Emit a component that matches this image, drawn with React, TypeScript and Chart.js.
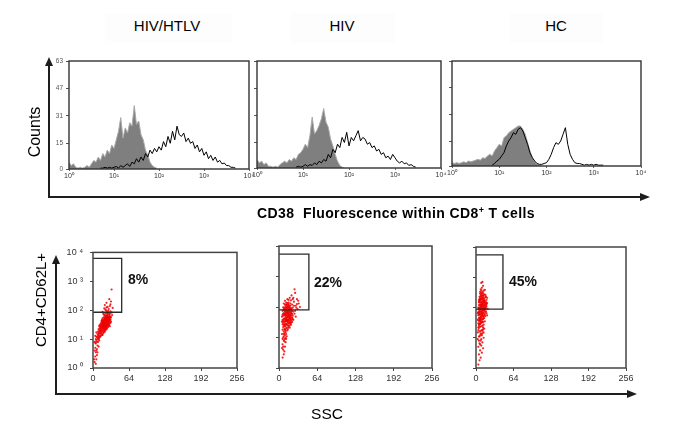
import React, { useEffect, useRef } from "react";
import { Chart, registerables } from "chart.js";

Chart.register(...registerables);

const FONT = '"Liberation Sans", Arial, Helvetica, sans-serif';
const NARROW = '"Liberation Sans Narrow", "Arial Narrow", "Liberation Sans", Arial, sans-serif';

// ---------- categories / ticks ----------
const GROUPS = ["HIV/HTLV", "HIV", "HC"];
const DECADES = [
  0, 0.05, 0.1, 0.15, 0.2, 0.25, 0.3, 0.35, 0.4, 0.45, 0.5, 0.55, 0.6, 0.65, 0.7, 0.75, 0.8, 0.85, 0.9, 0.95,
  1, 1.05, 1.1, 1.15, 1.2, 1.25, 1.3, 1.35, 1.4, 1.45, 1.5, 1.55, 1.6, 1.65, 1.7, 1.75, 1.8, 1.85, 1.9, 1.95,
  2, 2.05, 2.1, 2.15, 2.2, 2.25, 2.3, 2.35, 2.4, 2.45, 2.5, 2.55, 2.6, 2.65, 2.7, 2.75, 2.8, 2.85, 2.9, 2.95,
  3, 3.05, 3.1, 3.15, 3.2, 3.25, 3.3, 3.35, 3.4, 3.45, 3.5, 3.55, 3.6, 3.65, 3.7, 3.75, 3.8, 3.85, 3.9, 3.95, 4,
];
const DECADE_TICKS = [0, 1, 2, 3, 4];
const COUNT_TICKS = [0, 15, 31, 47, 63];
const SSC_TICKS = [0, 64, 128, 192, 256];
const FL_TICKS = [1, 10, 100, 1000, 10000];
const SUP = ["\u2070", "\u00b9", "\u00b2", "\u00b3", "\u2074"];

// ---------- histogram series (counts per channel, aligned with DECADES) ----------
const GREY_HIVHTLV = [
  4, 2, 3, 1, 0.5, 1, 0.5, 1, 2, 1, 3, 5, 4, 7, 5, 9, 7, 11, 9, 14,
  12, 17, 22, 30, 18, 24, 21, 27, 25, 37, 26, 28, 20, 17, 11, 8, 4, 2, 1, 0.5,
];
const BLACK_HIVHTLV = [
  null, null, null, null, null, null, null, null, null, null, null, null, null, null,
  0.5, 0.5, 1, 0.5, 1, 0.5, 1, 1.5, 0.5, 2, 1, 2, 3, 1.5, 4, 3, 6, 4, 7, 5, 9, 7, 11, 9, 12, 10,
  13, 11, 16, 13, 19, 15, 22, 17, 25, 20, 19, 21, 16, 18, 15, 16, 12, 14, 10, 12,
  8, 10, 6, 8, 5, 7, 4, 5, 3, 3.5, 2, 2, 1, 1, 0.5,
];
const GREY_HIV = [
  5, 3, 4, 2, 3, 1, 1, 0.5, 1, 0.5, 2, 3, 4, 3, 5, 4, 6, 5, 8, 9,
  11, 14, 12, 19, 30, 20, 22, 25, 29, 35, 27, 24, 17, 13, 8, 4, 1.5, 0.5, 0,
];
const BLACK_HIV = [
  null, null, null, null, null, null, null, null, null, null, null, null, null, null, null, null, null,
  0.5, 1, 0.5, 1, 2, 1, 2, 1.5, 3, 2, 4, 3, 5, 4, 8, 6, 11, 9, 14, 12, 18, 15, 21,
  13, 18, 16, 19, 22, 16, 18, 17, 14, 15, 12, 13, 10, 11, 8, 9, 6, 7, 5, 8,
  6, 4, 3, 4, 2.5, 3, 1.5, 2, 1, 0.5,
];
const GREY_HC = [
  2, 1.5, 2, 1.5, 2, 2.5, 2, 3, 2.5, 3, 3.5, 4, 3.5, 5, 4.5, 6, 7, 6, 9, 11,
  13, 12, 17, 18, 20, 21, 22, 23, 24, 24, 22, 19, 14, 9, 5, 2.5, 1, 0.5, 0,
];
const BLACK_HC = [
  null, null, null, null, null, null, null, null, null, null, null, null, null, null, null, null, null,
  0.5, 1.5, 3, 4, 6, 8, 12, 15, 17, 20, 19, 22, 23, 21, 17, 13, 8, 5, 3, 1.5, 1, 1, 1.5,
  2, 4, 7, 11, 14, 13, 15, 19, 23, 13, 7, 4, 2, 1.5, 1.5, 1, 0.5, 1, 0.5, 1,
  0.5, 1, 0.5, 0.5, 0.5,
];

// ---------- dot plots: [SSC, CD4+CD62L+ fluorescence] ----------
const DOTS_HIVHTLV = [
  [3, 1.6], [4, 2.5], [5, 3.5], [6, 2], [4, 5], [7, 4.5], [5, 7], [8, 6], [6, 9], [9, 8],
  [3, 8], [10, 5.5], [7, 12], [4, 13], [9, 11], [11, 9], [8, 15], [12, 13], [6, 17], [10, 16],
  [2, 2], [5, 1.4], [7, 2.8], [3, 4], [6, 4], [8, 3.5], [5, 10], [4, 7.5], [8, 10], [6, 12],
  [10, 10], [7, 8], [11, 11], [9, 13],
  [13, 18], [14, 22], [15, 20], [16, 25], [17, 19], [18, 28], [19, 24], [20, 30], [21, 26], [22, 33],
  [23, 29], [24, 36], [25, 31], [26, 40], [27, 35], [28, 44], [14, 30], [15, 35], [16, 40], [17, 33],
  [18, 45], [19, 38], [20, 50], [21, 42], [22, 55], [23, 47], [24, 60], [25, 52], [26, 66], [27, 58],
  [18, 16], [20, 19], [22, 22], [24, 25], [26, 28], [28, 31], [30, 38], [16, 14], [19, 21], [21, 23],
  [23, 27], [25, 34], [27, 41], [29, 48], [31, 55], [13, 26], [15, 28], [17, 36], [19, 32], [21, 36],
  [23, 39], [25, 43], [20, 35], [18, 31], [22, 28], [24, 45], [26, 49], [28, 53], [30, 62], [16, 31],
  [14, 17], [12, 20], [17, 24], [19, 27], [21, 31], [23, 34], [20, 24], [22, 38], [24, 41], [18, 37],
  [11, 12], [13, 15], [12, 24], [14, 27], [15, 16], [16, 19], [17, 29], [18, 22], [19, 34], [20, 27],
  [21, 20], [22, 30], [23, 24], [24, 32], [25, 27], [26, 35], [27, 30], [28, 38], [29, 42], [30, 45],
  [13, 21], [15, 23], [16, 34], [17, 41], [18, 26], [19, 44], [20, 38], [21, 48], [22, 41], [23, 52],
  [24, 47], [25, 57], [26, 44], [27, 50], [28, 60], [29, 55], [31, 48], [32, 58], [14, 35], [15, 42],
  [16, 46], [17, 52], [18, 40], [19, 57], [20, 44], [21, 55], [22, 47], [23, 62], [24, 54], [25, 65],
  [26, 58], [12, 16], [11, 19], [10, 14], [13, 12], [14, 13], [9, 18], [10, 22], [11, 28], [12, 31],
  [17, 14], [19, 17], [21, 18], [23, 21], [25, 23], [27, 26], [29, 33], [30, 28], [31, 36], [32, 40],
  [20, 70], [23, 75], [27, 78], [29, 70], [18, 80], [33, 82], [19, 72], [21, 65], [26, 73], [30, 75],
  [34, 68], [17, 88], [25, 88], [31, 92], [23, 98], [27, 95], [22, 105], [28, 110], [20, 115], [24, 125],
  [26, 130], [30, 140], [21, 150], [35, 120], [31, 160], [24, 180], [32, 200], [29, 240], [33, 520],
];
const DOTS_HIV = [
  [6, 2.2], [8, 2.8], [7, 4], [9, 3.5], [10, 5], [6, 6], [11, 7], [8, 8], [12, 9], [7, 10],
  [10, 12], [13, 11], [9, 14], [5, 13], [7, 5], [9, 7.5], [8, 11], [11, 10], [12, 13], [6, 9],
  [10, 9], [5, 4.5], [11, 15], [8, 13],
  [8, 16], [10, 18], [12, 20], [14, 17], [16, 22], [9, 24], [11, 26], [13, 28], [15, 25], [17, 30],
  [19, 27], [7, 30], [10, 33], [12, 35], [14, 32], [16, 37], [18, 34], [20, 40], [9, 42], [11, 45],
  [13, 40], [15, 47], [17, 43], [19, 50], [21, 45], [8, 52], [10, 55], [12, 58], [14, 53], [16, 62],
  [18, 57], [20, 65], [22, 60], [11, 68], [13, 66], [15, 74], [17, 70], [19, 78], [21, 72], [9, 76],
  [12, 80], [14, 38], [16, 48], [18, 44], [13, 50], [11, 36], [15, 33], [10, 28], [12, 44], [14, 64],
  [6, 38], [7, 60], [5, 48], [23, 52], [24, 70], [22, 32], [17, 56], [19, 36], [20, 30], [15, 58],
  [6, 18], [7, 22], [8, 26], [9, 19], [10, 23], [11, 17], [12, 27], [13, 21], [14, 25], [15, 19],
  [16, 29], [17, 24], [18, 21], [19, 31], [20, 26], [21, 35], [6, 27], [7, 35], [8, 41], [9, 33],
  [10, 39], [11, 52], [12, 41], [13, 35], [14, 46], [15, 38], [16, 53], [17, 39], [18, 49], [19, 41],
  [20, 52], [21, 58], [22, 44], [23, 40], [5, 33], [6, 55], [8, 63], [9, 58], [10, 71], [11, 60],
  [12, 66], [13, 75], [14, 71], [15, 64], [16, 77], [17, 83], [18, 69], [19, 62], [20, 80], [22, 75],
  [26, 60], [28, 48], [24, 38], [27, 75], [31, 85],
  [21, 87], [8, 85], [9, 95], [10, 88], [11, 82], [12, 98], [13, 93], [14, 108], [15, 102], [16, 118],
  [17, 96], [18, 87], [19, 112], [12, 120], [14, 135], [16, 140], [10, 120], [7, 98], [6, 75], [23, 96],
  [25, 110], [29, 95], [14, 90], [16, 95], [18, 100], [11, 105], [13, 115], [15, 125], [17, 110], [20, 92],
  [12, 140], [19, 130], [22, 120], [10, 160], [16, 170], [25, 150], [28, 110], [24, 200], [30, 180], [21, 240],
  [27, 290], [33, 130], [26, 380], [18, 200], [32, 160], [35, 100], [30, 125], [20, 165], [14, 180], [23, 180],
  [8, 130],
];
const DOTS_HC = [
  [4, 1.3], [6, 1.8], [8, 2.2], [5, 2.8], [10, 3.2], [7, 3.8], [12, 4.5], [4, 5], [9, 5.5], [6, 6.5],
  [11, 7], [8, 8], [3, 9], [13, 10], [5, 8], [7, 6], [9, 9], [10, 12], [8, 14], [6, 11],
  [11, 17], [12, 22], [4, 18], [13, 15],
  [5, 11], [7, 12], [9, 13], [11, 14], [6, 16], [8, 17], [10, 18], [12, 19], [14, 20], [5, 21],
  [7, 23], [9, 24], [11, 25], [13, 27], [6, 29], [8, 30], [10, 32], [12, 33], [15, 35], [4, 37],
  [7, 38], [9, 40], [3, 15], [4, 22], [5, 28], [6, 34], [7, 41], [9, 47], [10, 58], [12, 63],
  [14, 77], [3, 40], [5, 45], [6, 60], [7, 72], [18, 64], [19, 55], [6, 38], [7, 28], [8, 35],
  [9, 32], [10, 40], [11, 35], [12, 42], [13, 50], [14, 45], [15, 60], [16, 52], [4, 30], [5, 25],
  [3, 65], [4, 55], [5, 66], [8, 53], [11, 71], [17, 75],
  [11, 42], [13, 44], [6, 46], [8, 48], [10, 50], [12, 52], [14, 55], [5, 57], [7, 60], [9, 62],
  [11, 64], [13, 67], [16, 70], [6, 72], [8, 75], [10, 78], [12, 80], [14, 83], [4, 86], [7, 88],
  [9, 70], [11, 55], [7, 45], [16, 88], [6, 80], [4, 70], [13, 85],
  [9, 90], [11, 93], [13, 96], [15, 99], [6, 102], [8, 105], [10, 108], [12, 112], [14, 116], [17, 119],
  [5, 95], [15, 92], [16, 104], [7, 95], [8, 118], [9, 135], [10, 128], [11, 145], [12, 176], [13, 152],
  [14, 190], [15, 165], [16, 132], [17, 95], [18, 110], [5, 120], [6, 160], [7, 200], [8, 175], [9, 220],
  [10, 195], [11, 240], [12, 210], [13, 240], [14, 150], [15, 120], [8, 90], [9, 100], [10, 115], [11, 110],
  [12, 95], [13, 120], [14, 100], [4, 100], [5, 150], [6, 190], [8, 260], [10, 280], [12, 300], [7, 330],
  [9, 370], [16, 260], [18, 130], [20, 90], [19, 140], [17, 230],
  [7, 122], [9, 126], [11, 130], [13, 135], [15, 140], [6, 145], [8, 150], [10, 156], [12, 162], [14, 168],
  [5, 175], [7, 182], [9, 190], [11, 198], [13, 206], [16, 215], [6, 225], [8, 235], [10, 245], [12, 255],
  [14, 270], [18, 180], [17, 150], [19, 210], [7, 290], [9, 310], [11, 330], [13, 360], [8, 400], [10, 450],
  [15, 380], [12, 520], [9, 650], [11, 700],
];

const GREY_SERIES = [GREY_HIVHTLV, GREY_HIV, GREY_HC];
const BLACK_SERIES = [BLACK_HIVHTLV, BLACK_HIV, BLACK_HC];
const DOT_SERIES = [DOTS_HIVHTLV, DOTS_HIV, DOTS_HC];
const GATE_SSC = [51, 50, 46];
const GATE_LOW = [85, 80, 89];
const GATE_HIGH = [6200, 5400, 5500];
const GATE_PCT = ["8%", "22%", "45%"];

// ---------- layout (pixel boxes of each plot frame) ----------
const HIST_BOXES = [
  { l: 69, r: 249, t: 61, b: 169 },
  { l: 257, r: 441, t: 61, b: 168 },
  { l: 452, r: 641, t: 61, b: 166 },
];
const DOT_BOXES = [
  { l: 93, r: 237, t: 248, b: 368 },
  { l: 279, r: 432, t: 246, b: 368 },
  { l: 476, r: 626, t: 247, b: 368 },
];
const TITLE_X = [167, 342, 556];
const PCT_POS = [
  { x: 128, y: 279 },
  { x: 314, y: 282 },
  { x: 509, y: 281 },
];

const PT = 8;
const PR = 14;

const framePlugin = (color: string, width: number) => ({
  id: "frame",
  afterDatasetsDraw(chart: any) {
    const { ctx, chartArea: a } = chart;
    ctx.save();
    ctx.strokeStyle = color;
    ctx.lineWidth = width;
    ctx.strokeRect(a.left, a.top, a.right - a.left, a.bottom - a.top);
    ctx.restore();
  },
});

function histConfig(i: number, yw: number, xh: number) {
  const grey = GREY_SERIES[i];
  const black = BLACK_SERIES[i];
  return {
    type: "line",
    data: {
      datasets: [
        {
          data: black.map((v, k) => ({ x: DECADES[k], y: v })),
          borderColor: "#000",
          borderWidth: 1,
          pointRadius: 0,
          fill: false,
          tension: 0,
          order: 0,
        },
        {
          data: grey.map((v, k) => ({ x: DECADES[k], y: v })),
          borderColor: "#a9a9a9",
          backgroundColor: "#7f7f7f",
          borderWidth: 1,
          pointRadius: 0,
          fill: "origin",
          tension: 0,
          order: 1,
        },
      ],
    },
    options: {
      animation: false,
      responsive: false,
      events: [],
      layout: { padding: { top: PT, right: PR, left: 0, bottom: 0 } },
      plugins: { legend: { display: false }, tooltip: { enabled: false } },
      scales: {
        x: {
          type: "linear",
          min: 0,
          max: 4,
          afterBuildTicks: (s: any) => {
            s.ticks = DECADE_TICKS.map((v) => ({ value: v }));
          },
          afterFit: (s: any) => {
            s.height = xh;
          },
          border: { display: false },
          grid: { display: true, drawOnChartArea: false, drawTicks: true, tickLength: 2, color: "#666" },
          ticks: {
            color: "#333",
            padding: 1,
            maxRotation: 0,
            font: { family: FONT, size: 7 },
            callback: (v: number) => "10" + SUP[Math.round(v)],
          },
        },
        y: {
          min: 0,
          max: 63,
          afterBuildTicks: (s: any) => {
            s.ticks = COUNT_TICKS.map((v) => ({ value: v }));
          },
          afterFit: (s: any) => {
            s.width = yw;
          },
          border: { display: false },
          grid: { display: true, drawOnChartArea: false, drawTicks: true, tickLength: 3, color: "#555" },
          ticks: {
            display: i === 0,
            color: "#555",
            padding: 3,
            font: { family: FONT, size: 6.5 },
          },
        },
      },
    },
    plugins: [framePlugin("#333", 1.4)],
  };
}

function dotConfig(i: number, yw: number, xh: number) {
  const dots = DOT_SERIES[i];
  const gate = [
    { x: 0, y: GATE_HIGH[i] },
    { x: GATE_SSC[i], y: GATE_HIGH[i] },
    { x: GATE_SSC[i], y: GATE_LOW[i] },
    { x: 0, y: GATE_LOW[i] },
  ];
  return {
    type: "scatter",
    data: {
      datasets: [
        {
          type: "line",
          data: gate,
          borderColor: "#2a2a2a",
          borderWidth: 1.3,
          pointRadius: 0,
          fill: false,
          tension: 0,
          order: 0,
        },
        {
          data: dots.map(([x, y]) => ({ x, y })),
          pointRadius: 1.1,
          pointBorderWidth: 0,
          pointBackgroundColor: "rgba(238,0,0,0.85)",
          order: 1,
        },
      ],
    },
    options: {
      animation: false,
      responsive: false,
      events: [],
      layout: { padding: { top: PT, right: PR, left: 0, bottom: 0 } },
      plugins: { legend: { display: false }, tooltip: { enabled: false } },
      scales: {
        x: {
          type: "linear",
          min: 0,
          max: 256,
          afterBuildTicks: (s: any) => {
            s.ticks = SSC_TICKS.map((v) => ({ value: v }));
          },
          afterFit: (s: any) => {
            s.height = xh;
          },
          border: { display: false },
          grid: { display: true, drawOnChartArea: false, drawTicks: true, tickLength: 3, color: "#444" },
          ticks: {
            color: "#333",
            padding: 2,
            maxRotation: 0,
            font: { family: FONT, size: 9 },
          },
        },
        y: {
          type: "logarithmic",
          min: 1,
          max: 10000,
          afterBuildTicks: (s: any) => {
            s.ticks = FL_TICKS.map((v) => ({ value: v }));
          },
          afterFit: (s: any) => {
            s.width = yw;
          },
          border: { display: false },
          grid: { display: true, drawOnChartArea: false, drawTicks: true, tickLength: 3, color: "#444" },
          ticks: {
            display: i === 0,
            color: "#333",
            padding: 7,
            font: { family: FONT, size: 9 },
            callback: (v: number) => "10 " + SUP[Math.round(Math.log10(v))],
          },
        },
      },
    },
    plugins: [framePlugin("#444", 1.5)],
  };
}

function ChartBox({ box, yw, xh, make }: any) {
  const ref = useRef<HTMLCanvasElement>(null);
  const width = box.r - box.l + yw + PR;
  const height = box.b - box.t + PT + xh;
  useEffect(() => {
    const chart = new Chart(ref.current as HTMLCanvasElement, make(yw, xh) as any);
    return () => chart.destroy();
  }, []);
  return (
    <canvas
      ref={ref}
      width={width}
      height={height}
      style={{ position: "absolute", left: box.l - yw, top: box.t - PT, width, height }}
    />
  );
}

function Text({ x, y, rotate, style, children }: any) {
  return (
    <div
      style={{
        position: "absolute",
        left: x,
        top: y,
        transform: `translate(-50%, -50%)${rotate ? " rotate(-90deg)" : ""}`,
        whiteSpace: "nowrap",
        fontFamily: FONT,
        color: "#000",
        lineHeight: 1,
        ...style,
      }}
    >
      {children}
    </div>
  );
}

const LINE = "#1e1e1e";

function VLine({ x, y1, y2 }: any) {
  return <div style={{ position: "absolute", left: x - 1, top: y1, width: 2, height: y2 - y1, background: LINE }} />;
}
function HLine({ y, x1, x2 }: any) {
  return <div style={{ position: "absolute", left: x1, top: y - 1, width: x2 - x1, height: 2, background: LINE }} />;
}
function UpHead({ x, y }: any) {
  return (
    <div
      style={{
        position: "absolute",
        left: x - 4,
        top: y,
        width: 0,
        height: 0,
        borderLeft: "4px solid transparent",
        borderRight: "4px solid transparent",
        borderBottom: `9px solid ${LINE}`,
      }}
    />
  );
}
function RightHead({ x, y }: any) {
  return (
    <div
      style={{
        position: "absolute",
        left: x - 10,
        top: y - 4,
        width: 0,
        height: 0,
        borderTop: "4px solid transparent",
        borderBottom: "4px solid transparent",
        borderLeft: `10px solid ${LINE}`,
      }}
    />
  );
}

export default function App() {
  return (
    <div
      style={{
        position: "absolute",
        left: 0,
        top: 0,
        width: 685,
        height: 448,
        background: "#fff",
        overflow: "hidden",
      }}
    >
      {/* very faint title backgrounds */}
      <div style={{ position: "absolute", left: 105, top: 14, width: 127, height: 29, background: "#fdfdfd" }} />
      <div style={{ position: "absolute", left: 290, top: 13, width: 105, height: 30, background: "#fdfdfd" }} />
      <div style={{ position: "absolute", left: 510, top: 13, width: 93, height: 30, background: "#fdfdfd" }} />

      {GROUPS.map((g, i) => (
        <Text key={g} x={TITLE_X[i]} y={25} style={{ fontSize: 15 }}>
          {g}
        </Text>
      ))}

      {HIST_BOXES.map((b, i) => (
        <ChartBox key={"h" + i} box={b} yw={22} xh={16} make={(yw: number, xh: number) => histConfig(i, yw, xh)} />
      ))}
      {DOT_BOXES.map((b, i) => (
        <ChartBox key={"d" + i} box={b} yw={34} xh={18} make={(yw: number, xh: number) => dotConfig(i, yw, xh)} />
      ))}

      {PCT_POS.map((p, i) => (
        <div
          key={"p" + i}
          style={{
            position: "absolute",
            left: p.x,
            top: p.y - 8,
            fontFamily: NARROW,
            fontWeight: "bold",
            fontSize: 14,
            lineHeight: "16px",
            color: "#111",
            whiteSpace: "nowrap",
          }}
        >
          {GATE_PCT[i]}
        </div>
      ))}

      {/* axes arrows */}
      <VLine x={49} y1={64} y2={198} />
      <UpHead x={49} y={57} />
      <HLine y={197} x1={48} x2={642} />
      <RightHead x={650} y={197} />

      <VLine x={56} y1={262} y2={395} />
      <UpHead x={56} y={255} />
      <HLine y={394} x1={55} x2={630} />
      <RightHead x={637} y={394} />

      <Text x={35} y={132} rotate style={{ fontSize: 16 }}>
        Counts
      </Text>
      <Text x={396} y={213} style={{ fontSize: 14, fontWeight: "bold", letterSpacing: 0.4 }}>
        CD38&nbsp; Fluorescence within CD8<sup style={{ fontSize: 9 }}>+</sup> T cells
      </Text>
      <Text x={40} y={300} rotate style={{ fontSize: 15 }}>
        CD4+CD62L+
      </Text>
      <Text x={327} y={414} style={{ fontSize: 15.5 }}>
        SSC
      </Text>
    </div>
  );
}
